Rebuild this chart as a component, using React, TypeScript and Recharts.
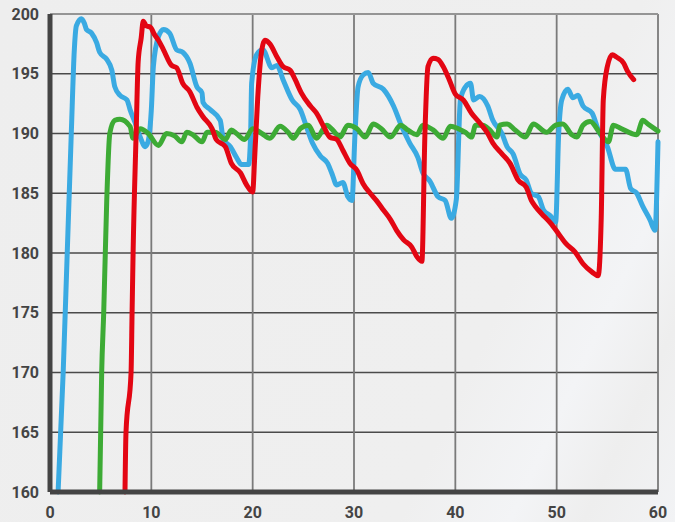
import React from "react";
import { LineChart, Line, XAxis, YAxis, CartesianGrid, ReferenceLine } from "recharts";

type P = [number, number];

const blueValues: P[] = [
  [0.8,160],[1.3,170],[1.7,180],[2.1,190],[2.4,197],[2.6,199],[3.1,199.6],[3.4,199.2],[3.6,198.7],[4.1,198.4],[4.6,197.6],[4.9,196.8],[5.6,196.2],[6.1,195.3],[6.4,193.9],[6.9,193.2],[7.6,192.8],[7.9,192],[8.4,190.9],[8.9,189.7],[9.4,188.9],[9.7,189.4],[10,192],[10.2,195.6],[10.7,198.1],[11.2,198.7],[11.8,198.4],[12.5,197],[13.1,196.8],[13.8,195.9],[14.5,193.9],[15,193.4],[15.1,192.6],[15.8,192],[16.8,191.1],[17.1,189.5],[17.8,188.9],[18.4,188],[18.9,187.4],[19.6,187.4],[19.8,190],[19.9,194.2],[20.4,196.6],[21,197],[21.9,195.5],[22.4,195.7],[23,194.5],[23.9,192.8],[24.7,192],[25.3,190.6],[25.9,189.2],[26.7,188.1],[27.4,187.5],[27.8,186.7],[28.3,185.7],[28.9,185.9],[29.4,184.7],[29.8,184.4],[30.1,190],[30.4,193.9],[30.9,194.9],[31.4,195.1],[31.9,194.2],[32.9,193.7],[33.9,192.3],[34.7,190.6],[35.5,189.2],[36.3,188],[36.8,186.7],[37.5,186],[38.3,184.7],[39,184.4],[39.6,182.9],[40.1,184.5],[40.5,192.8],[41,193.9],[41.5,194.2],[41.8,192.8],[42.4,193.1],[43.2,192.3],[43.7,191.1],[44.6,190],[45.1,188.9],[45.7,188.3],[46.4,186.6],[47,186.1],[47.5,185],[48.2,184.7],[48.7,183.6],[49.4,183.1],[49.9,182.6],[50.2,190],[50.5,192.8],[51.1,193.7],[51.6,193],[52.1,193.2],[52.6,192.3],[53.5,191.7],[54.1,190.3],[55,188.9],[55.8,187],[56.8,187],[57.3,185.4],[57.9,185],[58.5,183.9],[59.2,182.8],[59.7,181.9],[60,189.3]
];

const redValues: P[] = [
  [7.4,160],[7.5,165],[8.0,170],[8.1,175],[8.2,180],[8.5,190],[8.7,196],[9.0,198],[9.2,199.4],[9.5,199],[9.9,198.9],[10.3,198.3],[10.7,197.8],[11.2,197],[12,195.7],[12.5,195.5],[13.1,194.2],[13.8,193.5],[14.5,192.2],[15.1,191.4],[16,190.4],[16.4,189.5],[17.3,188.9],[17.9,187.5],[18.8,186.7],[19.4,185.7],[20,185.1],[20.2,188],[20.5,193],[20.9,197],[21.2,197.8],[21.7,197.5],[22.4,196.4],[23,195.6],[23.7,195.3],[24.2,194.5],[24.8,193.4],[25.7,192.3],[26.3,191.7],[27,190.6],[27.6,189.7],[28.3,189.5],[28.9,188.6],[29.6,187.5],[30.3,186.9],[30.9,185.8],[31.6,185],[32.2,184.4],[32.9,183.6],[33.6,182.8],[34.2,181.9],[34.9,181.1],[35.7,180.5],[36.2,179.7],[36.7,179.3],[37,190],[37.3,195.6],[37.8,196.3],[38.3,196.2],[38.8,195.6],[39.4,194.5],[40,193.3],[40.8,192.8],[41.6,191.7],[42.4,190.9],[43.2,190],[43.7,189.2],[44.6,188.3],[45.4,187.5],[46.2,186.1],[47,185.5],[47.5,184.4],[47.9,183.9],[48.5,183.3],[49.4,182.5],[50.2,181.6],[50.9,180.8],[51.8,180.1],[52.6,179.1],[53.5,178.4],[54.1,178.1],[54.4,183],[54.6,192.8],[55,195.6],[55.5,196.6],[55.9,196.4],[56.6,195.9],[57,195.2],[57.6,194.5]
];

const greenValues: P[] = [
  [4.9,160],[5.1,170],[5.3,175],[5.6,184.4],[5.9,190],[6.4,191.1],[6.9,191.2],[7.9,190.6],[8.2,189.6],[8.9,190.4],[9.7,190],[10.7,189],[11.5,190],[12.3,189.8],[13,189.3],[13.5,190.1],[14.1,189.9],[15,189.3],[15.5,190.1],[16.3,190.1],[17.3,189.5],[17.9,190.3],[18.4,190],[19.2,189.5],[20,190.4],[20.9,190],[21.7,189.6],[22.7,190.6],[23.5,190.1],[24,189.6],[24.7,190.4],[25.5,190.7],[26.3,189.6],[27.3,190.7],[28.1,190.1],[28.6,189.7],[29.4,190.7],[30.3,190.4],[31.1,189.7],[31.9,190.8],[32.7,190.4],[33.6,189.7],[34.6,190.7],[35.3,190.3],[36.2,189.9],[36.8,190.7],[37.8,190.3],[38.8,189.6],[39.5,190.6],[40.3,190.4],[41,190.1],[41.6,189.7],[42,190.7],[42.7,190.7],[43.4,190.3],[44.1,189.7],[44.4,190.7],[45.1,190.8],[45.9,190.3],[46.9,189.7],[47.7,190.8],[49,190.1],[49.9,190.7],[50.6,190.8],[51.5,189.9],[52,189.7],[52.6,190.7],[53.3,191],[54.3,190],[55.1,189.3],[55.6,190.7],[56.4,190.4],[57.4,190],[57.9,189.9],[58.5,191.1],[59,190.8],[60,190.2]
];

const xTicks = [0, 10, 20, 30, 40, 50, 60];
const yTicks = [160, 165, 170, 175, 180, 185, 190, 195, 200];

const toRows = (pts: P[]) => pts.map(([x, y]) => ({ x, y }));
const blueData = toRows(blueValues);
const redData = toRows(redValues);
const greenData = toRows(greenValues);

const tickStyle = { fill: "#444444", fontSize: 16, fontWeight: 700, fontFamily: "Roboto, 'DejaVu Sans', sans-serif" };

export default function App() {
  return (
    <div
      style={{
        position: "absolute",
        left: 0,
        top: 0,
        width: 675,
        height: 522,
        background: "linear-gradient(115deg, #eeeeee 0%, #efefef 70%, #f3f4f6 82%, #eeeeee 90%, #f2f3f5 100%)",
      }}
    >
      <LineChart width={675} height={522} margin={{ top: 14, right: 17, bottom: 0, left: 0 }}>
        <CartesianGrid vertical={false} stroke="#4a4a4a" strokeWidth={1.5} />
        <CartesianGrid horizontal={false} stroke="#7a7a7a" strokeWidth={1.8} />
        <ReferenceLine y={200} stroke="#a0a0a0" strokeWidth={1.5} />
        <XAxis
          type="number"
          dataKey="x"
          domain={[0, 60]}
          ticks={xTicks}
          allowDuplicatedCategory={false}
          height={30}
          tickLine={false}
          tickSize={0}
          tickMargin={15}
          axisLine={{ stroke: "#444444", strokeWidth: 5 }}
          tick={tickStyle}
          interval={0}
        />
        <YAxis
          type="number"
          domain={[160, 200]}
          ticks={yTicks}
          width={50}
          tickLine={false}
          tickSize={0}
          tickMargin={11}
          axisLine={{ stroke: "#444444", strokeWidth: 5 }}
          tick={tickStyle}
          interval={0}
        />
        <Line data={blueData} dataKey="y" type="monotone" stroke="#3aaae2" strokeWidth={5} dot={false} isAnimationActive={false} strokeLinecap="round" strokeLinejoin="round" />
        <Line data={greenData} dataKey="y" type="monotone" stroke="#3dab35" strokeWidth={5} dot={false} isAnimationActive={false} strokeLinecap="round" strokeLinejoin="round" />
        <Line data={redData} dataKey="y" type="monotone" stroke="#e30613" strokeWidth={5} dot={false} isAnimationActive={false} strokeLinecap="round" strokeLinejoin="round" />
      </LineChart>
    </div>
  );
}
